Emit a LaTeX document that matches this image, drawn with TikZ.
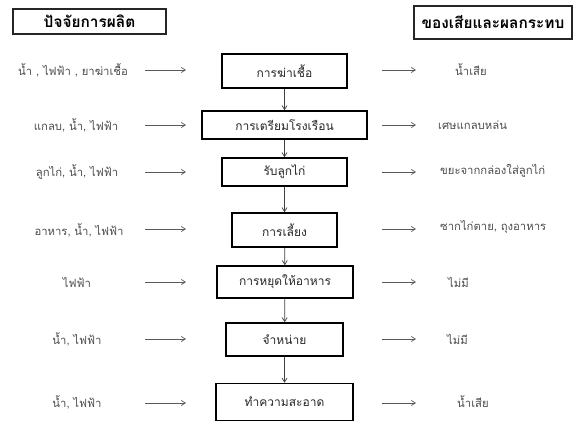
\documentclass[tikz,border=0pt]{standalone}
\usepackage{fontspec}
\newfontfamily\thaifont[Script=Thai]{Loma}
\usetikzlibrary{arrows.meta}
\tikzset{
  box/.style={draw=black, line width=1.6pt, minimum height=#1, inner sep=0pt, font=\thaifont\fontsize{12}{14}\selectfont, text=black!85},
  hdr/.style={draw=black!85, line width=1.3pt, inner sep=0pt, font=\thaifont\bfseries\fontsize{15.4}{17}\selectfont},
  side/.style={inner sep=0pt, font=\thaifont\fontsize{11.3}{13}\selectfont, text=black!70},
  arr/.style={draw=black!65, line width=0.7pt, -{Straight Barb[length=4pt,width=5pt]}},
  varr/.style={draw=black!75, line width=0.7pt, -{Straight Barb[length=4pt,width=5pt]}}
}
\begin{document}
\begin{tikzpicture}[x=1pt,y=-1pt]
\useasboundingbox (0,0) rectangle (574,423);
% headers
\node[hdr, minimum width=153pt, minimum height=25pt] (hl) at (89.5,21.5) {ปัจจัยการผลิต};
\node[hdr, minimum width=158pt, minimum height=33pt] (hr) at (493,22.5) {ของเสียและผลกระทบ};
% process boxes
\node[box=34pt, minimum width=125pt] (b1) at (284.5,71) {การฆ่าเชื้อ};
\node[box=28pt, minimum width=165pt] (b2) at (284.5,125) {การเตรียมโรงเรือน};
\node[box=28pt, minimum width=125pt] (b3) at (284.5,172) {รับลูกไก่};
\node[box=34pt, minimum width=105pt] (b4) at (284.5,230) {การเลี้ยง};
\node[box=32pt, minimum width=136pt] (b5) at (285,282) {การหยุดให้อาหาร};
\node[box=33pt, minimum width=117pt] (b6) at (284.5,339.5) {จำหน่าย};
\node[box=37pt, minimum width=137pt] (b7) at (284.5,402) {ทำความสะอาด};
% vertical arrows
\draw[varr] (b1) -- (b2);
\draw[varr] (b2) -- (b3);
\draw[varr] (b3) -- (b4);
\draw[varr] (b4) -- (b5);
\draw[varr] (b5) -- (b6);
\draw[varr] (b6) -- (b7);
% left inputs
\node[side] (l1) at (73,70) {น้ำ , ไฟฟ้า , ยาฆ่าเชื้อ};
\node[side] (l2) at (76,125) {แกลบ, น้ำ, ไฟฟ้า};
\node[side] (l3) at (77,172) {ลูกไก่, น้ำ, ไฟฟ้า};
\node[side] (l4) at (79,230) {อาหาร, น้ำ, ไฟฟ้า};
\node[side] (l5) at (77,282) {ไฟฟ้า};
\node[side] (l6) at (77,339) {น้ำ, ไฟฟ้า};
\node[side] (l7) at (77,402) {น้ำ, ไฟฟ้า};
% right outputs
\node[side, anchor=west] (r1) at (455,70) {น้ำเสีย};
\node[side, anchor=west] (r2) at (438,125) {เศษแกลบหล่น};
\node[side, anchor=west] (r3) at (440,171) {ขยะจากกล่องใส่ลูกไก่};
\node[side, anchor=west] (r4) at (440,227) {ซากไก่ตาย, ถุงอาหาร};
\node[side, anchor=west] (r5) at (448,282) {ไม่มี};
\node[side, anchor=west] (r6) at (447,339) {ไม่มี};
\node[side, anchor=west] (r7) at (457,402) {น้ำเสีย};
% arrow end coordinates
\foreach \i/\y in {1/70,2/125,3/172,4/229,5/282,6/339,7/403}{
  \coordinate (ls\i) at (145,\y);
  \coordinate (le\i) at (186,\y);
  \coordinate (rs\i) at (382,\y);
  \coordinate (re\i) at (416,\y);
  \draw[arr] (ls\i) -- (le\i);
  \draw[arr] (rs\i) -- (re\i);
}
\end{tikzpicture}
\end{document}
